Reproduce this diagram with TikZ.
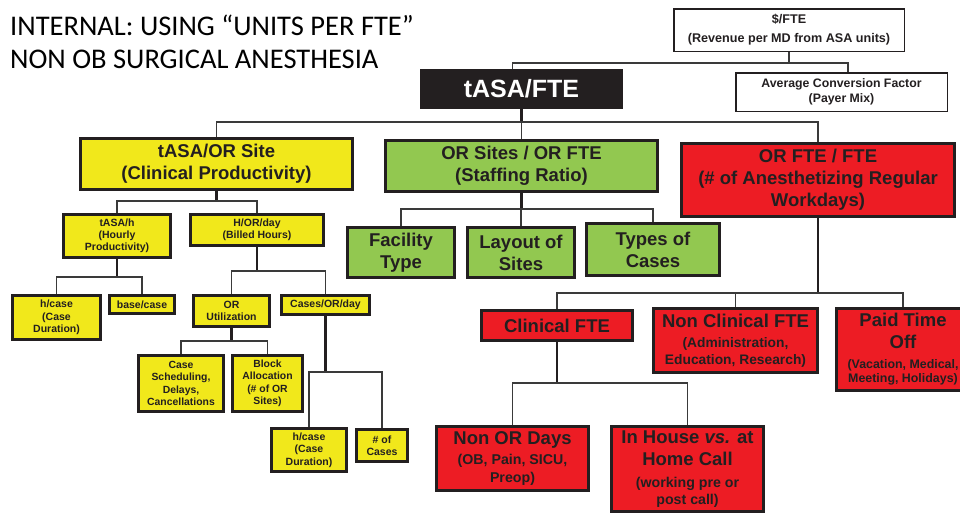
\documentclass[tikz,border=0pt]{standalone}
\usepackage{fontspec}
\setmainfont{Liberation Sans}
\newfontfamily\titlefont{Carlito}
\definecolor{dk}{HTML}{231F20}
\definecolor{yel}{HTML}{F1E81B}
\definecolor{grn}{HTML}{92C850}
\definecolor{rd}{HTML}{ED1C24}
\definecolor{ln}{HTML}{3A3A3A}
\newcommand{\fz}[2]{\fontsize{#1}{#2}\selectfont\bfseries}
\tikzset{
  bx/.style={draw=dk, line width=2.7, text=dk, align=center, inner sep=0pt},
  ybox/.style={bx, fill=yel},
  gbox/.style={bx, fill=grn},
  rbox/.style={bx, fill=rd},
  mixbox/.style={rbox, align=flush center},
  wbox/.style={draw=dk, line width=1.5, fill=white, text=dk, align=center, inner sep=0pt},
  stub/.style={draw=dk, line width=2.2},
  branch/.style={draw=ln, line width=1.4},
  ttl/.style={anchor=base west, inner sep=0pt, text=black, font=\titlefont\fontsize{28.5}{33}\selectfont}
}
\begin{document}
\begin{tikzpicture}[x=1pt,y=-1pt]
\useasboundingbox (0,0) rectangle (960,515);
\clip (0,0) rectangle (960,515);
\fill[white] (0,0) rectangle (960,515);

% titles
\node[ttl] (t1) at (10,35) {INTERNAL: USING “UNITS PER FTE”};
\node[ttl] (t2) at (10,68) {NON OB SURGICAL ANESTHESIA};

% top boxes
\node[wbox, minimum width=230.5, minimum height=42.5, font=\fz{12.6}{19}] (dollar) at (789,30)
  {\$/FTE\\(Revenue per MD from ASA units)};
\node[fill=dk, text=white, minimum width=203, minimum height=40, inner sep=0pt, font=\fz{25}{28}] (tasafte) at (521.5,89)
  {tASA/FTE};
\node[wbox, minimum width=211.5, minimum height=38.5, font=\fz{12.3}{15}] (avgc) at (841.5,92)
  {Average Conversion Factor\\(Payer Mix)};

% level 1
\node[ybox, minimum width=272, minimum height=51, font=\fz{18.5}{22}] (site) at (216.5,164)
  {tASA/OR Site\\(Clinical Productivity)};
\node[gbox, minimum width=272, minimum height=51, font=\fz{18.5}{22}] (orsites) at (521.5,166)
  {OR Sites / OR FTE\\(Staffing Ratio)};
\node[rbox, minimum width=273, minimum height=73, font=\fz{18.5}{22}] (orfte) at (818,180)
  {OR FTE / FTE\\(\# of Anesthetizing Regular\\Workdays)};

% yellow subtree
\node[ybox, minimum width=107, minimum height=43, font=\fz{10.5}{11.8}] (tasah) at (117,236)
  {tASA/h\\(Hourly\\Productivity)};
\node[ybox, minimum width=133, minimum height=31, font=\fz{10.5}{12.5}] (hor) at (257,230)
  {H/OR/day\\(Billed Hours)};
\node[ybox, minimum width=88, minimum height=44, font=\fz{10.5}{12.5}] (hcasea) at (56.5,317.5)
  {h/case\\(Case\\Duration)};
\node[ybox, minimum width=65, minimum height=18, font=\fz{10.5}{12.5}] (base) at (142,304.5)
  {base/case};
\node[ybox, minimum width=76, minimum height=31, font=\fz{10.5}{12.7}] (orutil) at (231.5,311)
  {OR\\Utilization};
\node[ybox, minimum width=88, minimum height=19, font=\fz{10.5}{12.5}] (cases) at (325.5,305)
  {Cases/OR/day};
\node[ybox, minimum width=85, minimum height=56, font=\fz{10.4}{12.5}] (sched) at (181,383.5)
  {Case\\Scheduling,\\Delays,\\Cancellations};
\node[ybox, minimum width=70, minimum height=56, font=\fz{10.4}{12.5}] (block) at (267.5,383.5)
  {Block\\Allocation\\(\# of OR\\Sites)};
\node[ybox, minimum width=75, minimum height=43, font=\fz{10.5}{12.5}] (hcaseb) at (309,450)
  {h/case\\(Case\\Duration)};
\node[ybox, minimum width=51, minimum height=32, font=\fz{10.5}{12.5}] (ncases) at (382,445.5)
  {\# of\\Cases};

% green subtree
\node[gbox, minimum width=107, minimum height=50, font=\fz{18.5}{22}] (facility) at (401,252.5)
  {Facility\\Type};
\node[gbox, minimum width=107, minimum height=50, font=\fz{18.5}{22}] (layout) at (521,252.5)
  {Layout of\\Sites};
\node[gbox, minimum width=133, minimum height=52, font=\fz{18.5}{22}] (types) at (653,249.5)
  {Types of\\Cases};

% red subtree
\node[rbox, minimum width=151, minimum height=30, font=\fz{18.5}{22}] (clin) at (557,325.5)
  {Clinical FTE};
\node[mixbox, minimum width=164, minimum height=64, text width=158, font=\fz{18.5}{20}] (nonclin) at (735.5,340.5)
  {Non Clinical FTE\par\vskip3pt\fz{13.8}{17}(Administration,\\Education, Research)\par};
\node[mixbox, minimum width=133, minimum height=82, text width=127, font=\fz{18.5}{21.7}] (pto) at (903,349.5)
  {Paid Time\\Off\par\vskip5.5pt\fz{12.4}{14.3}(Vacation, Medical,\\Meeting, Holidays)\par};
\node[mixbox, minimum width=152, minimum height=64, text width=146, font=\fz{18.5}{20}] (nonor) at (512.5,458.5)
  {Non OR Days\par\vskip2.5pt\fz{14.2}{17.5}(OB, Pain, SICU,\\Preop)\par};
\node[mixbox, minimum width=152, minimum height=85, text width=146, font=\fz{18.5}{22.3}] (inhouse) at (687.5,469)
  {In House \textit{vs.} at\\Home Call\par\vskip5pt\fz{14.2}{16.7}(working pre or\\post call)\par};

% connectors: top
\draw[branch] (dollar.south) -- (dollar.south |- 0,63);
\draw[branch] ([xshift=-9pt]tasafte.north) |- ([xshift=6.5pt]avgc.north |- 0,63) -- ([xshift=6.5pt]avgc.north);

% level 1
\draw[stub] (tasafte.south) -- (tasafte.south |- 0,122);
\draw[branch] (site.north) |- (orfte.north |- 0,122) -- (orfte.north);
\draw[branch] (orsites.north |- 0,122) -- (orsites.north);

% yellow
\draw[stub] (site.south) -- (site.south |- 0,201);
\draw[branch] (tasah.north) |- (hor.north |- 0,201) -- (hor.north);
\draw[stub] (tasah.south) -- (tasah.south |- 0,277);
\draw[branch] (hcasea.north) |- (base.north |- 0,277) -- (base.north);
\draw[stub] (hor.south) -- (hor.south |- 0,271);
\draw[branch] (orutil.north) |- (cases.north |- 0,271) -- (cases.north);
\draw[stub] (orutil.south) -- (orutil.south |- 0,341);
\draw[branch] (sched.north) |- (block.north |- 0,341) -- (block.north);
\draw[stub] (cases.south) -- (cases.south |- 0,372);
\draw[branch] (hcaseb.north) |- (ncases.north |- 0,372) -- (ncases.north);

% green
\draw[stub] (orsites.south) -- (orsites.south |- 0,209);
\draw[branch] (facility.north) |- (types.north |- 0,209) -- (types.north);
\draw[branch] (layout.north |- 0,209) -- (layout.north);

% red
\draw[stub] (orfte.south) -- (orfte.south |- 0,293);
\draw[branch] (clin.north) |- (pto.north |- 0,293) -- (pto.north);
\draw[branch] (nonclin.north |- 0,293) -- (nonclin.north);
\draw[stub] (clin.south) -- (clin.south |- 0,383);
\draw[branch] (nonor.north) |- (inhouse.north |- 0,383) -- (inhouse.north);
\end{tikzpicture}
\end{document}
